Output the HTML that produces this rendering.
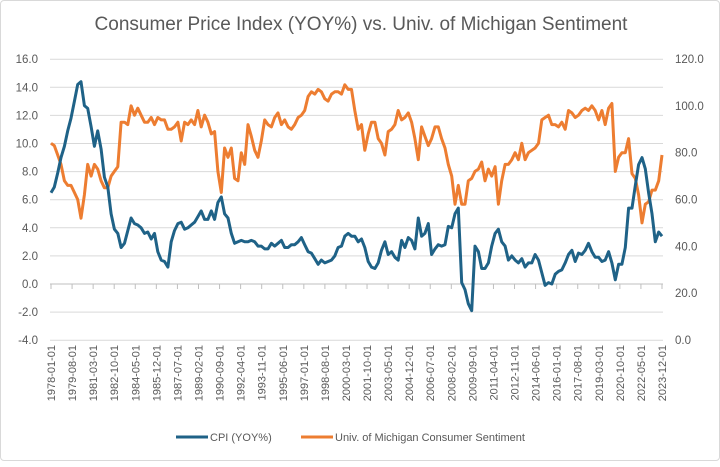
<!DOCTYPE html>
<html><head><meta charset="utf-8"><style>
body{margin:0;background:#fff;font-family:"Liberation Sans",sans-serif}
#c{position:absolute;left:0;top:0;width:718px;height:459px;border:1px solid #d9d9d9;border-radius:4px}
</style></head><body>
<div id="c">
<svg id="s" width="720" height="461"></svg>
</div>
<script>
const xTicks=["1978-01-01","1979-08-01","1981-03-01","1982-10-01","1984-05-01","1985-12-01","1987-07-01","1989-02-01","1990-09-01","1992-04-01","1993-11-01","1995-06-01","1997-01-01","1998-08-01","2000-03-01","2001-10-01","2003-05-01","2004-12-01","2006-07-01","2008-02-01","2009-09-01","2011-04-01","2012-11-01","2014-06-01","2016-01-01","2017-08-01","2019-03-01","2020-10-01","2022-05-01","2023-12-01"];
const leftTicks=[-4,-2,0,2,4,6,8,10,12,14,16];
const rightTicks=[0,20,40,60,80,100,120];
const cpi=[6.5,6.9,7.9,9.0,9.8,10.9,11.8,13.0,14.2,14.4,12.7,12.5,11.2,9.8,10.9,9.6,7.6,6.9,5.0,3.9,3.6,2.6,2.9,3.8,4.7,4.3,4.2,4.0,3.6,3.7,3.2,3.6,2.3,1.7,1.6,1.2,3.0,3.8,4.3,4.4,3.9,4.0,4.2,4.4,4.8,5.2,4.6,4.6,5.2,4.6,5.8,6.2,5.0,4.7,3.6,2.9,3.0,3.1,3.0,3.0,3.1,3.0,2.7,2.7,2.5,2.5,2.9,2.7,2.9,3.1,2.6,2.6,2.8,2.8,3.0,3.3,2.8,2.3,2.2,1.8,1.4,1.7,1.5,1.6,1.7,2.0,2.6,2.7,3.4,3.6,3.4,3.4,3.0,3.2,2.6,1.6,1.2,1.1,1.5,2.4,3.0,2.1,2.3,1.9,1.7,3.1,2.6,3.3,3.1,2.5,4.7,3.4,3.6,4.3,2.1,2.5,2.8,2.7,2.8,4.1,4.0,5.0,5.4,0.1,-0.4,-1.4,-1.9,2.7,2.3,1.1,1.1,1.5,2.7,3.6,3.9,3.0,2.7,1.7,2.0,1.7,1.5,1.8,1.2,1.5,1.5,2.1,1.7,0.8,-0.1,0.1,0.0,0.7,0.9,1.0,1.5,2.1,2.4,1.6,2.2,2.1,2.4,2.9,2.3,1.9,1.9,1.6,1.7,2.3,1.5,0.3,1.4,1.4,2.6,5.4,5.4,7.0,8.5,9.0,8.2,6.5,5.0,3.0,3.7,3.4];
const sentiment=[84,83,79,75,68,66,66,63,60,52,62,75,70,75,73,68,65,65,70,72,74,93,93,92,100,96,99,96,93,93,95,92,95,94,94,90,90,91,93,85,93,92,94,92,98,91,96,93,88,89,72,63,82,78,82,69,68,80,75,92,87,81,78,85,94,92,91,95,97,92,94,91,90,92,95,96,98,104,106,105,107,106,103,102,105,106,106,105,109,107,107,98,90,92,81,88,93,93,86,84,79,89,90,92,98,94,95,97,93,86,77,91,87,83,86,91,91,86,82,75,70,58,66,58,58,68,69,72,73,76,68,73,70,74,58,68,75,75,77,80,77,84,77,80,81,82,84,94,95,96,92,92,91,93,90,98,97,95,96,98,99,98,100,98,94,98,92,99,101,72,78,80,80,86,71,69,62,50,58,59,64,64,68,79];
const NS="http://www.w3.org/2000/svg";
const s=document.getElementById('s');
const X0=50,X1=661,Y0=283,PU=14.05,RB=339,RP=281/120,NM=551;
const xm=m=>X0+(X1-X0)*m/NM;
const yl=v=>Y0-v*PU;
const yr=v=>RB-v*RP;
function el(t,a,txt){const e=document.createElementNS(NS,t);for(const k in a)e.setAttribute(k,a[k]);if(txt!==undefined)e.textContent=txt;s.appendChild(e);return e;}
const title=el('text',{x:360,y:29,'text-anchor':'middle','font-size':19,fill:'#595959'},'Consumer Price Index (YOY%) vs. Univ. of Michigan Sentiment');


leftTicks.forEach(v=>{
 const g=el('line',{x1:X0-1,x2:X1+1,y1:yl(v),y2:yl(v),stroke:'#d9d9d9','stroke-width':1});
 
 
 const t=el('text',{x:37,y:yl(v)+4,'text-anchor':'end','font-size':11.5,fill:'#595959'},v.toFixed(1));
 
 
});
rightTicks.forEach(v=>{
 const t=el('text',{x:674,y:yr(v)+4,'text-anchor':'start','font-size':11.5,fill:'#595959'},v.toFixed(1));
 
 
});
const ax=el('line',{x1:X0-1,x2:X1+1,y1:Y0,y2:Y0,stroke:'#bfbfbf','stroke-width':1});


xTicks.forEach((lab,i)=>{
 const x=xm(i*19);
 const tk=el('line',{x1:x,x2:x,y1:Y0,y2:Y0+5,stroke:'#bfbfbf'});
 
 
 const t=el('text',{x:0,y:0,'text-anchor':'end','font-size':11,fill:'#595959',transform:`translate(${x+4},344) rotate(-90)`},lab);
 
 
});
function line(arr,fy,col,name){
 const n=arr.length;
 const d=arr.map((v,i)=>(i?'L':'M')+xm(i*NM/(n-1)).toFixed(1)+','+fy(v).toFixed(1)).join('');
 const p=el('path',{d:d,fill:'none',stroke:col,'stroke-width':3,'stroke-linejoin':'round'});
 
 
}
line(sentiment,yr,'#ed7d31','sentiment-line');
line(cpi,yl,'#1f6287','cpi-line');
const l1=el('line',{x1:175,x2:207,y1:436,y2:436,stroke:'#1f6287','stroke-width':3});


const t1=el('text',{x:209,y:440,'font-size':11,fill:'#595959'},'CPI (YOY%)');


const l2=el('line',{x1:300,x2:332,y1:436,y2:436,stroke:'#ed7d31','stroke-width':3});


const t2=el('text',{x:334,y:440,'font-size':11,fill:'#595959'},'Univ. of Michigan Consumer Sentiment');


</script>
</body></html>
